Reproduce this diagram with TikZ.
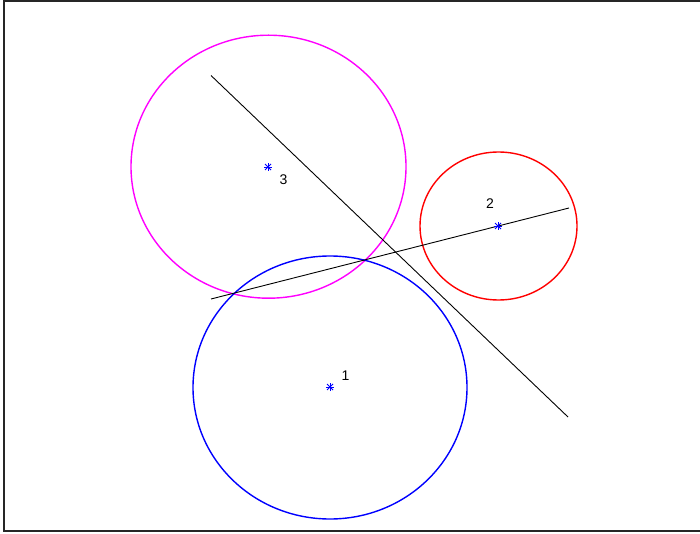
\documentclass[tikz,border=0pt]{standalone}
\usepackage{fontspec}
\setmainfont{Liberation Sans}
\definecolor{mag}{RGB}{255,0,255}
\definecolor{rd}{RGB}{255,0,0}
\definecolor{bl}{RGB}{0,0,255}
\begin{document}
\begin{tikzpicture}[x=1pt,y=-1pt,
  circ/.style={line width=1.4pt},
  seg/.style={line width=0.9pt,black},
  lab/.style={font=\fontsize{14}{14}\selectfont,inner sep=0pt},
  mk/.style={bl,line width=0.9pt}]
\useasboundingbox (0,0) rectangle (700,534);
\fill[white] (0,0) rectangle (700,534);
\draw[line width=1.3pt,black!85] (700,1) -- (4,1) -- (4,531) -- (700,531);
% circles
\draw[circ,mag] (268.5,166.7) ellipse [x radius=137.5, y radius=131.5];
\draw[circ,rd] (498.5,226) ellipse [x radius=78.5, y radius=74];
\draw[circ,bl] (330,387.5) ellipse [x radius=137, y radius=131.5];
% lines
\coordinate (a1) at (211,75.5);
\coordinate (a2) at (568,417);
\coordinate (b1) at (211,299);
\coordinate (b2) at (569,208);
\draw[seg] (a1) -- (a2);
\draw[seg] (b1) -- (b2);
% centers
\foreach \n/\x/\y in {c1/330/387, c2/498/226, c3/268/167}{
  \coordinate (\n) at (\x,\y);
  \draw[mk] ([xshift=-4pt]\n) -- ([xshift=4pt]\n);
  \draw[mk] ([yshift=-4pt]\n) -- ([yshift=4pt]\n);
  \draw[mk] ([shift={(-3,-3)}]\n) -- ([shift={(3,3)}]\n);
  \draw[mk] ([shift={(-3,3)}]\n) -- ([shift={(3,-3)}]\n);
}
\node[lab] (l1) at (345.5,376) {1};
\node[lab] (l2) at (490,204) {2};
\node[lab] (l3) at (283.5,179.5) {3};
\end{tikzpicture}
\end{document}
